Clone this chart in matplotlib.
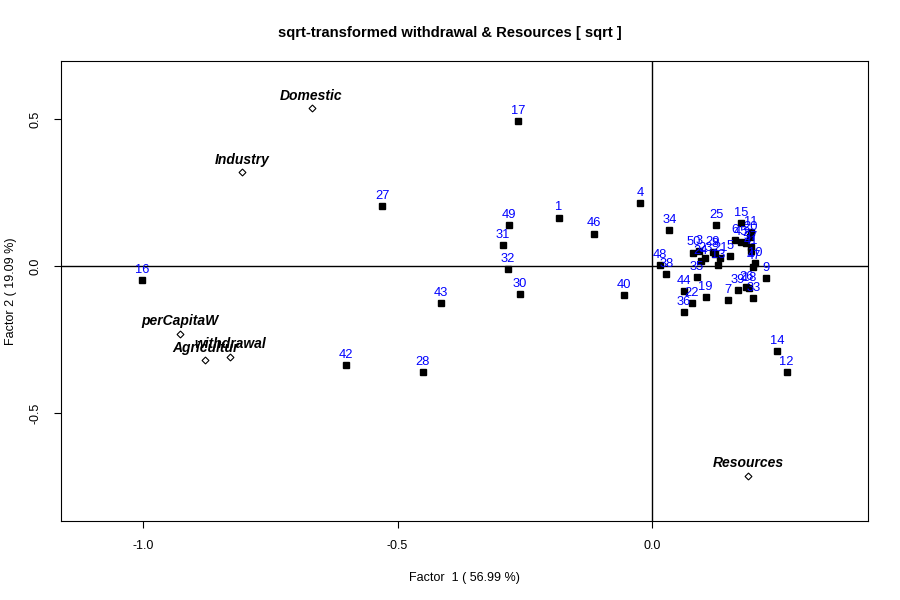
import matplotlib
matplotlib.use("Agg")
import numpy as np
from matplotlib import pyplot as plt

plt.rcParams['font.family'] = ['Liberation Sans', 'DejaVu Sans']

# observation scores (factor 1, factor 2)
obs_labels = ['1', '2', '3', '4', '5', '6', '7', '8', '9', '10',
              '11', '12', '13', '14', '15', '16', '17', '18', '19', '20',
              '21', '22', '23', '24', '25', '26', '27', '28', '29', '30',
              '31', '32', '33', '34', '35', '36', '37', '38', '39', '40',
              '41', '42', '43', '44', '45', '46', '47', '48', '49', '50']
obs_f1 = [-0.183, 0.184, 0.093, -0.023, 0.153, 0.163, 0.149, 0.124, 0.223, 0.202,
          0.194, 0.264, 0.130, 0.246, 0.175, -1.001, -0.263, 0.191, 0.105, 0.193,
          0.134, 0.078, 0.104, 0.096, 0.126, 0.185, -0.530, -0.450, 0.119, -0.259,
          -0.293, -0.284, 0.199, 0.034, 0.088, 0.063, 0.194, 0.028, 0.169, -0.055,
          0.194, -0.601, -0.415, 0.063, 0.175, -0.115, 0.199, 0.016, -0.281, 0.081]
obs_f2 = [0.164, 0.078, 0.050, 0.213, 0.034, 0.088, -0.117, 0.041, -0.042, 0.010,
          0.116, -0.362, 0.003, -0.290, 0.146, -0.049, 0.493, -0.075, -0.105, 0.099,
          0.027, -0.127, 0.027, 0.017, 0.139, -0.072, 0.203, -0.361, 0.048, -0.096,
          0.070, -0.011, -0.110, 0.121, -0.039, -0.158, 0.065, -0.027, -0.082, -0.098,
          0.051, -0.337, -0.126, -0.085, 0.082, 0.110, -0.002, 0.002, 0.139, 0.045]

# variable loadings
var_labels = ['Domestic', 'Industry', 'perCapitaW', 'Agricultur', 'withdrawal', 'Resources']
var_f1 = [-0.669, -0.806, -0.927, -0.878, -0.829, 0.189]
var_f2 = [0.537, 0.320, -0.230, -0.320, -0.308, -0.713]

fig = plt.figure(figsize=(9, 6), dpi=100)
ax = fig.add_axes([0.0678, 0.1317, 0.8966, 0.7666])

ax.axhline(0, color='black', lw=1)
ax.axvline(0, color='black', lw=1)

ax.plot(obs_f1, obs_f2, 's', color='black', ms=4.3, ls='none')
for lab, x, y in zip(obs_labels, obs_f1, obs_f2):
    ax.annotate(lab, (x, y), xytext=(0, 7.4), textcoords='offset points',
                ha='center', va='center', color='blue', fontsize=9.3)

ax.plot(var_f1, var_f2, 'D', mfc='white', mec='black', ms=3.5, mew=0.8, ls='none')
for lab, x, y in zip(var_labels, var_f1, var_f2):
    ax.annotate(lab, (x, y), xytext=(0, 8.8), textcoords='offset points',
                ha='center', va='center', color='black', fontsize=10,
                fontweight='bold', fontstyle='italic')

ax.set_xlim(-1.161, 0.424)
ax.set_ylim(-0.867, 0.697)
ax.set_xticks([-1.0, -0.5, 0.0])
ax.set_xticklabels(['-1.0', '-0.5', '0.0'])
ax.set_yticks([-0.5, 0.0, 0.5])
ax.set_yticklabels(['-0.5', '0.0', '0.5'], rotation=90, va='center')
ax.tick_params(direction='out', length=5, width=0.8, labelsize=9, pad=9)
for s in ax.spines.values():
    s.set_linewidth(0.8)

ax.set_xlabel('Factor  1 ( 56.99 %)', fontsize=9, labelpad=14)
ax.set_ylabel('Factor 2 ( 19.09 %)', fontsize=9, labelpad=9)
fig.suptitle('sqrt-transformed withdrawal & Resources [ sqrt ]', y=0.945, va='center',
             fontsize=10.6, fontweight='bold')

plt.savefig('out.png', dpi=100)
